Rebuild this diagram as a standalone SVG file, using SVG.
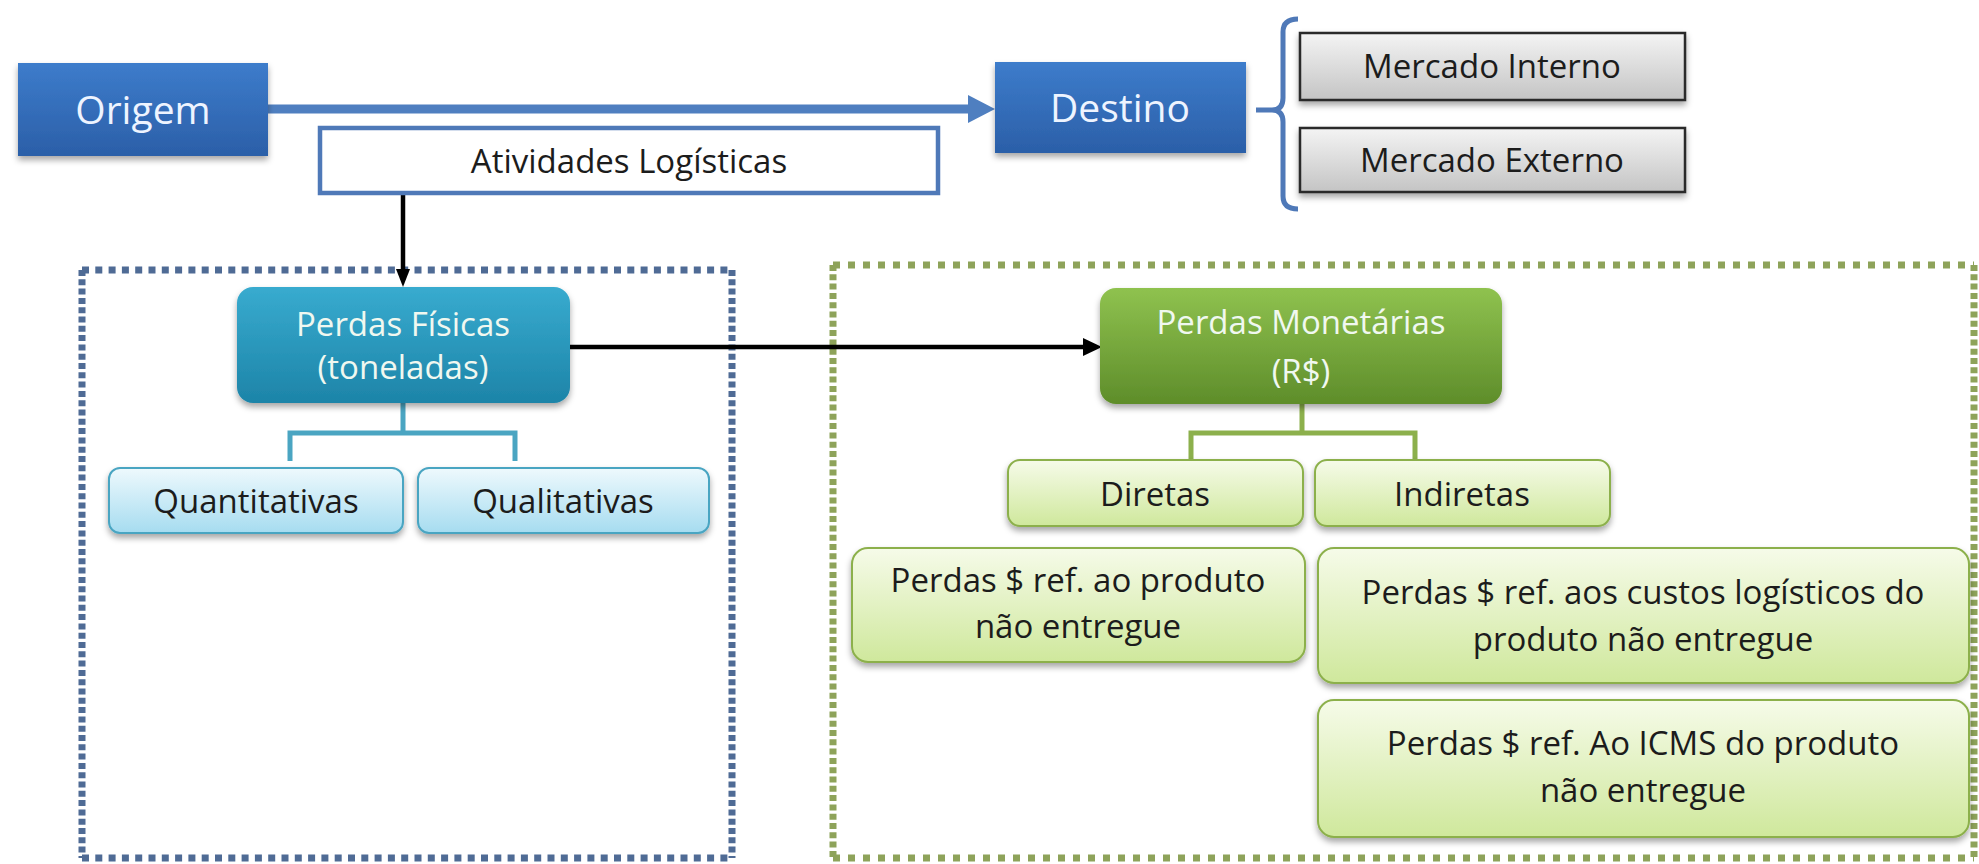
<svg xmlns="http://www.w3.org/2000/svg" width="1979" height="864" viewBox="0 0 1979 864">
<defs>
<linearGradient id="gBlue" x1="0" y1="0" x2="0" y2="1"><stop offset="0" stop-color="#3d7ccb"/><stop offset="1" stop-color="#2b5fa8"/></linearGradient>
<linearGradient id="gGray" x1="0" y1="0" x2="0" y2="1"><stop offset="0" stop-color="#f4f4f4"/><stop offset="1" stop-color="#c4c4c4"/></linearGradient>
<linearGradient id="gTeal" x1="0" y1="0" x2="0" y2="1"><stop offset="0" stop-color="#38abcf"/><stop offset="1" stop-color="#1d84a8"/></linearGradient>
<linearGradient id="gLBlue" x1="0" y1="0" x2="0" y2="1"><stop offset="0" stop-color="#eef9fd"/><stop offset="1" stop-color="#a6dcf0"/></linearGradient>
<linearGradient id="gGreen" x1="0" y1="0" x2="0" y2="1"><stop offset="0" stop-color="#8fc24f"/><stop offset="1" stop-color="#5e8d2a"/></linearGradient>
<linearGradient id="gLGreen" x1="0" y1="0" x2="0" y2="1"><stop offset="0" stop-color="#f6fbe9"/><stop offset="1" stop-color="#cfe89c"/></linearGradient>
<filter id="sh" x="-10%" y="-20%" width="120%" height="150%"><feDropShadow dx="0" dy="4" stdDeviation="3" flood-color="#000" flood-opacity="0.35"/></filter>
<style>
text{font-family:"Open Sans","Noto Sans","Liberation Sans",sans-serif;text-anchor:middle}
.big{font-size:39px;fill:#eef4ff}
.lbl{font-size:33px;fill:#1c1c1c}
.wl{font-size:33px;fill:#f0f8f0}
.blk{stroke:#000;stroke-width:4.5;fill:none}
.bh{stroke:#4f6b95;stroke-width:7;stroke-dasharray:7 6.3;fill:none}
.bv{stroke:#4f6b95;stroke-width:7;stroke-dasharray:6 3.3;fill:none}
.gh{stroke:#8ea35a;stroke-width:7;stroke-dasharray:7 8;fill:none}
.gv{stroke:#8ea35a;stroke-width:7;stroke-dasharray:6 3.3;fill:none}
.tealc{stroke:#4aa5c2;stroke-width:5;fill:none}
.grnc{stroke:#8cb04c;stroke-width:5;fill:none}
</style>
</defs>
<rect width="1979" height="864" fill="#ffffff"/>

<g id="frames">
<path class="bh" d="M82 270 H732 M82 858 H732"/>
<path class="bv" d="M82 270 V858 M732 270 V858"/>
<path class="gh" d="M833 265 H1974 M833 858 H1974"/>
<path class="gv" d="M833 265 V858 M1974 265 V858"/>
</g>

<g id="connectors">
<line x1="268" y1="109" x2="970" y2="109" stroke="#4f7fc0" stroke-width="9"/>
<polygon points="968,95 995,109 968,123" fill="#4f7fc0"/>
<path d="M1256 110 H1272 M1298 19 Q1283 19 1283 32 V98 Q1283 110 1272 110 Q1283 110 1283 122 V196 Q1283 209 1298 209" stroke="#4f79b8" stroke-width="5" fill="none"/>
<line class="blk" x1="403" y1="195" x2="403" y2="270"/>
<polygon points="396,269 403,287 410,269" fill="#000"/>
<line class="blk" x1="570" y1="347" x2="1085" y2="347"/>
<polygon points="1083,338 1102,347 1083,356" fill="#000"/>
<path class="tealc" d="M403 403 V433 M290 461 V433 H515 V461"/>
<path class="grnc" d="M1302 404 V433 M1191 460 V433 H1415 V460"/>
</g>

<g id="origem"><rect x="18" y="63" width="250" height="93" fill="url(#gBlue)" filter="url(#sh)"/><text class="big" x="143" y="124">Origem</text></g>
<g id="destino"><rect x="995" y="62" width="251" height="91" fill="url(#gBlue)" filter="url(#sh)"/><text class="big" x="1120" y="122">Destino</text></g>
<g id="atividades"><rect x="320" y="128" width="618" height="65" fill="#ffffff" stroke="#4f79b8" stroke-width="4.5"/><text class="lbl" x="629" y="173">Atividades Logísticas</text></g>
<g id="mercado-interno"><rect x="1300" y="33" width="385" height="67" fill="url(#gGray)" stroke="#2a2a2a" stroke-width="2.5" filter="url(#sh)"/><text class="lbl" x="1492" y="78">Mercado Interno</text></g>
<g id="mercado-externo"><rect x="1300" y="128" width="385" height="64" fill="url(#gGray)" stroke="#2a2a2a" stroke-width="2.5" filter="url(#sh)"/><text class="lbl" x="1492" y="172">Mercado Externo</text></g>

<g id="perdas-fisicas"><rect x="237" y="287" width="333" height="116" rx="16" fill="url(#gTeal)" filter="url(#sh)"/><text class="wl" x="403" y="336">Perdas Físicas</text><text class="wl" x="403" y="379">(toneladas)</text></g>
<g id="quantitativas"><rect x="109" y="468" width="294" height="65" rx="11" fill="url(#gLBlue)" stroke="#4aa5c2" stroke-width="2" filter="url(#sh)"/><text class="lbl" x="256" y="513">Quantitativas</text></g>
<g id="qualitativas"><rect x="418" y="468" width="291" height="65" rx="11" fill="url(#gLBlue)" stroke="#4aa5c2" stroke-width="2" filter="url(#sh)"/><text class="lbl" x="563" y="513">Qualitativas</text></g>

<g id="perdas-monetarias"><rect x="1100" y="288" width="402" height="116" rx="16" fill="url(#gGreen)" filter="url(#sh)"/><text class="wl" x="1301" y="334">Perdas Monetárias</text><text class="wl" x="1301" y="383">(R$)</text></g>
<g id="diretas"><rect x="1008" y="460" width="295" height="66" rx="12" fill="url(#gLGreen)" stroke="#8cb04c" stroke-width="2" filter="url(#sh)"/><text class="lbl" x="1155" y="506">Diretas</text></g>
<g id="indiretas"><rect x="1315" y="460" width="295" height="66" rx="12" fill="url(#gLGreen)" stroke="#8cb04c" stroke-width="2" filter="url(#sh)"/><text class="lbl" x="1462" y="506">Indiretas</text></g>
<g id="perdas-produto"><rect x="852" y="548" width="453" height="114" rx="16" fill="url(#gLGreen)" stroke="#8cb04c" stroke-width="2" filter="url(#sh)"/><text class="lbl" x="1078" y="592">Perdas $ ref. ao produto</text><text class="lbl" x="1078" y="638">não entregue</text></g>
<g id="perdas-custos"><rect x="1318" y="548" width="651" height="135" rx="16" fill="url(#gLGreen)" stroke="#8cb04c" stroke-width="2" filter="url(#sh)"/><text class="lbl" x="1643" y="604">Perdas $ ref. aos custos logísticos do</text><text class="lbl" x="1643" y="651">produto não entregue</text></g>
<g id="perdas-icms"><rect x="1318" y="700" width="651" height="137" rx="16" fill="url(#gLGreen)" stroke="#8cb04c" stroke-width="2" filter="url(#sh)"/><text class="lbl" x="1643" y="755">Perdas $ ref. Ao ICMS do produto</text><text class="lbl" x="1643" y="802">não entregue</text></g>
</svg>
